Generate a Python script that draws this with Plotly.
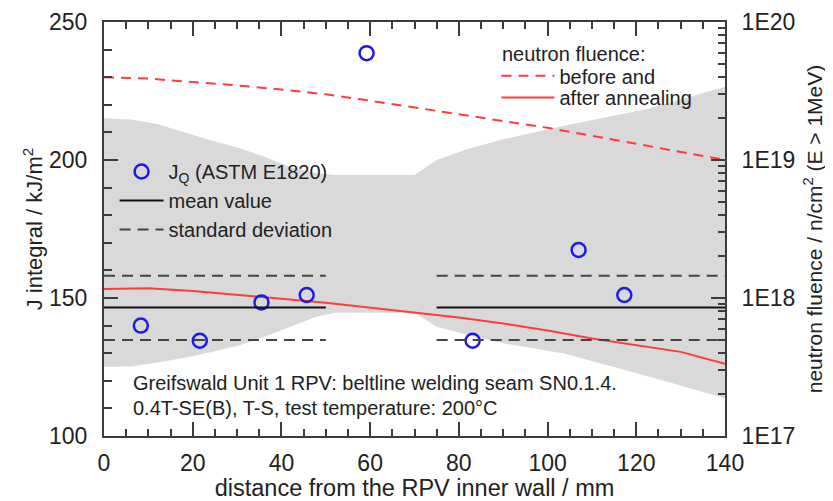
import plotly.graph_objects as go

# ---- data ----
jq_x = [8.3, 21.6, 35.5, 45.7, 59.2, 83.1, 107.0, 117.3]
jq_y = [140.0, 134.5, 148.4, 151.1, 238.7, 134.5, 167.4, 151.1]

mean_value = 146.6
std_upper = 158.1
std_lower = 134.8
seg1 = [0, 50]
seg2 = [75, 140]

band_x = [0, 6, 12, 18, 24, 30, 36, 42, 48, 52, 70, 75, 82, 90, 104, 123, 140]
band_upper = [215, 214.7, 213, 210, 207.2, 204.5, 201.3, 197.5, 195.2, 194.6, 194.6, 200, 204, 207.5, 212.5, 218.7, 226.5]
band_lower = [125, 125.2, 126.6, 128.3, 130.3, 132.6, 135.9, 139.6, 143.3, 144.7, 144.7, 139.6, 136.6, 133.6, 129.8, 121.5, 113.7]

fl_x = [0, 10, 20, 30, 40, 50, 60, 70, 80, 90, 100, 110, 120, 130, 140]
fl_before = [3.98e19, 3.89e19, 3.67e19, 3.47e19, 3.24e19, 2.99e19, 2.69e19, 2.40e19,
             2.14e19, 1.91e19, 1.71e19, 1.50e19, 1.31e19, 1.135e19, 1.0e19]
fl_after = [1.161e18, 1.175e18, 1.122e18, 1.059e18, 9.89e17, 9.23e17, 8.51e17, 7.82e17,
            7.21e17, 6.53e17, 5.82e17, 5.09e17, 4.57e17, 4.07e17, 3.33e17]

y2_tickvals = [1e17, 1e18, 1e19, 1e20]
y2_ticktext = ["1E17", "1E18", "1E19", "1E20"]
y2_minor = [float(m) * 10.0 ** e for e in (17, 18, 19) for m in range(2, 10)]

FONT = "Liberation Sans, Arial, sans-serif"
TXT = "#222222"
AX = "#3c3c3c"
RED = "#ff3b3b"

fig = go.Figure()

# gray band
fig.add_trace(go.Scatter(x=band_x + band_x[::-1], y=band_upper + band_lower[::-1],
                         fill="toself", fillcolor="#d9d9d9", line=dict(width=0),
                         mode="lines", showlegend=False, hoverinfo="skip", yaxis="y"))

# fluence curves (right axis)
fig.add_trace(go.Scatter(x=fl_x, y=fl_before, mode="lines", name="before and",
                         line=dict(color=RED, width=2, dash="10px,7px"),
                         yaxis="y2", legend="legend2"))
fig.add_trace(go.Scatter(x=fl_x, y=fl_after, mode="lines", name="after annealing",
                         line=dict(color=RED, width=2),
                         yaxis="y2", legend="legend3"))

# J data (top layer)
fig.add_trace(go.Scatter(x=jq_x, y=jq_y, mode="markers", name="J<sub>Q</sub> (ASTM E1820)",
                         marker=dict(symbol="circle-open", size=14, color="#1a1aee",
                                     line=dict(width=2.5, color="#1a1aee")),
                         yaxis="y3", legend="legend"))
fig.add_trace(go.Scatter(x=seg1 + [None] + seg2, y=[mean_value] * 2 + [None] + [mean_value] * 2,
                         mode="lines", name="mean value",
                         line=dict(color="#111111", width=2), yaxis="y3", legend="legend"))
fig.add_trace(go.Scatter(x=seg1 + [None] + seg2 + [None] + seg1 + [None] + seg2,
                         y=[std_upper] * 2 + [None] + [std_upper] * 2 + [None] +
                           [std_lower] * 2 + [None] + [std_lower] * 2,
                         mode="lines", name="standard deviation",
                         line=dict(color="#444444", width=2, dash="11px,7px"),
                         yaxis="y3", legend="legend"))

axis_common = dict(showline=True, linecolor=AX, linewidth=2, ticks="inside",
                   tickcolor=AX, tickwidth=1.5, showgrid=False, zeroline=False,
                   tickfont=dict(family=FONT, size=23, color=TXT))

leg_common = dict(xanchor="left", yanchor="top", bgcolor="rgba(0,0,0,0)",
                  font=dict(family=FONT, size=20, color=TXT))

fig.update_layout(
    width=825, height=493,
    margin=dict(l=96, r=108, t=14, b=65, autoexpand=False),
    paper_bgcolor="white", plot_bgcolor="white",
    font=dict(family=FONT, size=20, color=TXT),
    xaxis=dict(range=[0, 140], dtick=20, ticklen=14, mirror="ticks", ticklabelstandoff=5,
               minor=dict(dtick=5, ticklen=7, ticks="inside", tickcolor=AX),
               title=dict(text="distance from the RPV inner wall / mm",
                          font=dict(family=FONT, size=23.5, color=TXT), standoff=8),
               **axis_common),
    yaxis=dict(range=[100, 250], dtick=50, ticklen=14, ticklabelstandoff=10,
               minor=dict(dtick=10, ticklen=8, ticks="inside", tickcolor=AX),
               title=dict(text="J integral / kJ/m<sup>2</sup>",
                          font=dict(family=FONT, size=22, color=TXT), standoff=0),
               **axis_common),
    yaxis2=dict(type="log", range=[17, 20], overlaying="y", side="right",
                tickmode="array", tickvals=y2_tickvals, ticktext=y2_ticktext, ticklen=14,
                ticklabelstandoff=10,
                minor=dict(tickmode="array", tickvals=y2_minor, ticklen=7,
                           ticks="inside", tickcolor=AX),
                title=dict(text="neutron fluence / n/cm<sup>2</sup> (E > 1MeV)",
                           font=dict(family=FONT, size=21, color=TXT), standoff=13),
                **axis_common),
    yaxis3=dict(range=[100, 250], overlaying="y", visible=False),
    legend=dict(x=0.017, y=0.686, tracegroupgap=0, itemwidth=44, **leg_common),
    legend2=dict(x=0.632, y=0.917, itemwidth=53, **leg_common),
    legend3=dict(x=0.632, y=0.865, itemwidth=53, **leg_common),
    showlegend=True,
)

fig.add_annotation(x=0.638, y=0.922, xref="paper", yref="paper", xanchor="left", yanchor="middle",
                   text="neutron fluence:", showarrow=False,
                   font=dict(family=FONT, size=20, color=TXT))
fig.add_annotation(x=6, y=119.2, xref="x", yref="y", xanchor="left", yanchor="middle",
                   text="Greifswald Unit 1 RPV: beltline welding seam SN0.1.4.",
                   showarrow=False, font=dict(family=FONT, size=20, color=TXT))
fig.add_annotation(x=6, y=110.1, xref="x", yref="y", xanchor="left", yanchor="middle",
                   text="0.4T-SE(B), T-S, test temperature: 200°C",
                   showarrow=False, font=dict(family=FONT, size=20, color=TXT))

fig.write_html("out.html")
